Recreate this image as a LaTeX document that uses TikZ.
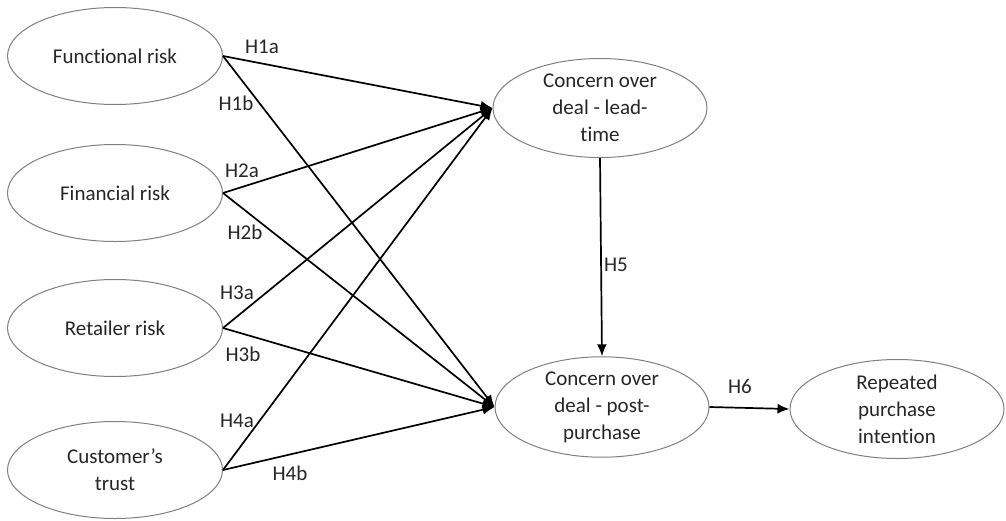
\documentclass[tikz,border=0pt]{standalone}
\usepackage{fontspec}
\setmainfont{Carlito}[RawFeature={-liga;-clig;-calt}]
\usetikzlibrary{shapes.geometric,arrows.meta}
\tikzset{
    construct/.style={draw=gray, line width=1pt, ellipse, inner sep=0pt,
        minimum width=215pt, minimum height=97pt, align=center,
        font=\fontsize{21}{27}\selectfont, text=black!85},
    path/.style={line width=1.7pt, -{Latex[length=12pt,width=10pt]}},
    hyp/.style={font=\fontsize{21}{25}\selectfont, text=black!85}
}
\begin{document}
\begin{tikzpicture}[x=1pt, y=-1pt]
            \useasboundingbox (0,0) rectangle (1006,520);
            \node[construct] (func) at (115,56) {Functional risk};
            \node[construct] (fin) at (115,193) {Financial risk};
            \node[construct] (ret) at (115,328) {Retailer risk};
            \node[construct] (trust) at (115,470) {Customer's\\trust};
            \node[construct, minimum width=214pt, minimum height=99pt] (lead) at (600,108) {Concern over\\deal - lead-\\time};
            \node[construct, minimum width=214pt, minimum height=99pt] (post) at (602,407) {Concern over\\deal - post-\\purchase};
            \node[construct, minimum width=214pt, minimum height=99pt] (rep) at (897,409) {Repeated\\purchase\\intention};
            \draw[path] (func.east) -- (lead.west);
            \draw[path] (func.east) -- (post.west);
            \draw[path] (fin.east) -- (lead.west);
            \draw[path] (fin.east) -- (post.west);
            \draw[path] (ret.east) -- (lead.west);
            \draw[path] (ret.east) -- (post.west);
            \draw[path] (trust.east) -- (lead.west);
            \draw[path] (trust.east) -- (post.west);
            \draw[path] (lead.south) -- (post.north);
            \draw[path] (post.east) -- (rep.west);
            \node[hyp] (h1a) at (262,47) {H1a};
            \node[hyp] (h1b) at (236,103) {H1b};
            \node[hyp] (h2a) at (242,171) {H2a};
            \node[hyp] (h2b) at (245,232) {H2b};
            \node[hyp] (h3a) at (237,293) {H3a};
            \node[hyp] (h3b) at (243,354) {H3b};
            \node[hyp] (h4a) at (237,421) {H4a};
            \node[hyp] (h4b) at (290,473) {H4b};
            \node[hyp] (h5) at (616,265) {H5};
            \node[hyp] (h6) at (740,386) {H6};
        \end{tikzpicture}
\end{document}
